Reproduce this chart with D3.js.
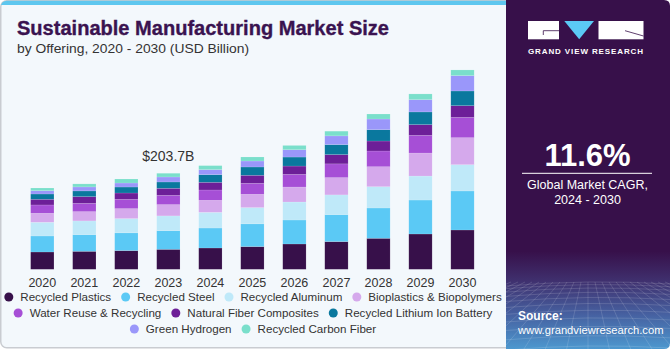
<!DOCTYPE html>
<html>
<head>
<meta charset="utf-8">
<script src="https://cdn.jsdelivr.net/npm/d3@7"></script>
<style>
body { margin: 0; background: #fff; }
svg { display: block; font-family: "Liberation Sans", Arial, sans-serif; }
</style>
</head>
<body>
<svg width="670" height="350"></svg>
<script>
// chart data (USD billion)
const years = [2020, 2021, 2022, 2023, 2024, 2025, 2026, 2027, 2028, 2029, 2030];
const segments = ['Recycled Plastics', 'Recycled Steel', 'Recycled Aluminum', 'Bioplastics & Biopolymers',
  'Water Reuse & Recycling', 'Natural Fiber Composites', 'Recycled Lithium Ion Battery',
  'Green Hydrogen', 'Recycled Carbon Fiber'];
const colors = ['#37104a', '#5bc9f5', '#bfe9f9', '#d5a9ec', '#a64fd6', '#6d1f98', '#0a789e', '#9a97fa', '#7adfcb'];

const recycledPlastics = [36.7, 38.2, 39.7, 42.4, 45.2, 48.2, 53.7, 58.8, 65.8, 74.9, 83.4];
const recycledSteel = [34.0, 35.4, 37.6, 39.7, 42.4, 48.2, 50.9, 57.3, 64.3, 72.1, 82.8];
const recycledAluminum = [29.1, 29.1, 30.3, 31.2, 33.3, 34.6, 38.2, 41.8, 45.2, 50.9, 55.8];
const bioplastics = [19.1, 19.7, 21.2, 24.0, 25.5, 28.2, 31.8, 36.7, 42.4, 48.8, 57.3];
const waterReuse = [17.6, 17.6, 19.7, 19.7, 21.9, 23.3, 26.9, 29.1, 33.3, 37.6, 43.1];
const naturalFiber = [12.1, 14.2, 13.4, 14.9, 16.3, 17.0, 17.6, 19.7, 21.2, 22.7, 24.8];
const lithiumBattery = [11.2, 12.1, 12.7, 13.4, 16.3, 17.6, 19.1, 21.2, 24.0, 26.9, 31.2];
const greenHydrogen = [7.0, 8.5, 8.5, 10.6, 10.6, 12.7, 15.5, 18.5, 22.7, 26.1, 32.5];
const carbonFiber = [5.7, 6.4, 8.5, 7.9, 8.5, 8.5, 9.1, 10.0, 10.6, 12.1, 12.1];

const seriesValues = [recycledPlastics, recycledSteel, recycledAluminum, bioplastics, waterReuse,
  naturalFiber, lithiumBattery, greenHydrogen, carbonFiber];

const annotatedYear = 2023;
const annotationText = '$203.7B';
const cagrText = '11.6%';

var svg = d3.select('svg');
var defs = svg.append('defs');

// ---- light panel ----
defs.append('clipPath').attr('id', 'panelClip')
  .append('rect').attr('x', 0.75).attr('y', 0.75).attr('width', 540).attr('height', 347).attr('rx', 6);

svg.append('rect')
  .attr('x', 0.75).attr('y', 0.75).attr('width', 540).attr('height', 347).attr('rx', 6)
  .attr('fill', '#f3f8fc').attr('stroke', '#c9ccd1').attr('stroke-width', 1.5);
svg.append('rect')
  .attr('clip-path', 'url(#panelClip)')
  .attr('x', 0).attr('y', 0).attr('width', 540).attr('height', 5)
  .attr('fill', '#5ec7ef');

// titles
svg.append('text')
  .attr('x', 17).attr('y', 35)
  .attr('font-size', 20).attr('font-weight', 'bold').attr('fill', '#3a1350')
  .attr('stroke', '#3a1350').attr('stroke-width', 0.35)
  .attr('textLength', 372).attr('lengthAdjust', 'spacingAndGlyphs')
  .text('Sustainable Manufacturing Market Size');
svg.append('text')
  .attr('x', 17).attr('y', 53)
  .attr('font-size', 13).attr('fill', '#333')
  .attr('textLength', 232).attr('lengthAdjust', 'spacingAndGlyphs')
  .text('by Offering, 2020 - 2030 (USD Billion)');

// ---- bars ----
var rows = years.map((y, i) => {
  var r = { year: y };
  segments.forEach((s, j) => { r[s] = seriesValues[j][i]; });
  return r;
});
var stacked = d3.stack().keys(segments)(rows);

var x = d3.scaleBand().domain(years).range([21.3, 483.5]).paddingInner(0.445).paddingOuter(0.2225);
var y = d3.scaleLinear().domain([0, 450]).range([269.3, 269.3 - 450 * 96 / 203.7]);

svg.append('g')
  .selectAll('g')
  .data(stacked)
  .enter()
  .append('g')
  .attr('fill', (d, i) => colors[i])
  .selectAll('rect')
  .data(d => d)
  .enter()
  .append('rect')
  .attr('x', d => x(d.data.year))
  .attr('width', x.bandwidth())
  .attr('y', d => y(d[1]))
  .attr('height', d => y(d[0]) - y(d[1]))
  .attr('stroke', 'rgba(255,255,255,0.25)')
  .attr('stroke-width', 0.5);

var xAxis = svg.append('g')
  .attr('transform', 'translate(0,' + y(0) + ')')
  .call(d3.axisBottom(x).tickSize(0).tickPadding(9));
xAxis.select('.domain').remove();
xAxis.selectAll('text')
  .attr('font-family', '"Liberation Sans", Arial, sans-serif')
  .attr('font-size', 12.5).attr('fill', '#333');

// annotation
var annIndex = years.indexOf(annotatedYear);
var annTotal = d3.sum(seriesValues, s => s[annIndex]);
svg.append('text')
  .attr('x', x(annotatedYear) + x.bandwidth() / 2)
  .attr('y', y(annTotal) - 12)
  .attr('text-anchor', 'middle')
  .attr('font-size', 14).attr('fill', '#333')
  .text(annotationText);

// ---- legend ----
var legendRows = [[0, 1, 2, 3], [4, 5, 6], [7, 8]];
var legendY = [297, 313, 329];
var legendCenter = 253;
var legend = svg.append('g');
legendRows.forEach((row, ri) => {
  var g = legend.append('g');
  var cx = 0;
  row.forEach(k => {
    g.append('circle').attr('cx', cx + 4.5).attr('cy', legendY[ri]).attr('r', 4.5).attr('fill', colors[k]);
    var t = g.append('text')
      .attr('x', cx + 16).attr('y', legendY[ri] + 4.3)
      .attr('font-size', 11.6).attr('fill', '#333')
      .text(segments[k]);
    cx += 16 + t.node().getComputedTextLength() + 10;
  });
  var w = cx - 10;
  g.attr('transform', 'translate(' + (legendCenter - w / 2) + ',0)');
});

// ---- right panel ----
var grad = defs.append('linearGradient').attr('id', 'sideGrad')
  .attr('x1', 0).attr('y1', 0).attr('x2', 0).attr('y2', 1);
grad.append('stop').attr('offset', '0').attr('stop-color', '#37104a');
grad.append('stop').attr('offset', '0.72').attr('stop-color', '#37104a');
grad.append('stop').attr('offset', '0.8').attr('stop-color', '#3f2e6c');
grad.append('stop').attr('offset', '0.9').attr('stop-color', '#4660a0');
grad.append('stop').attr('offset', '1').attr('stop-color', '#4d98cf');

var px0 = 506, px1 = 670, py0 = 0, py1 = 349, rr = 6;
svg.append('path')
  .attr('d', `M${px0},${py0} H${px1 - rr} Q${px1},${py0} ${px1},${py0 + rr} V${py1 - rr} Q${px1},${py1} ${px1 - rr},${py1} H${px0} Z`)
  .attr('fill', 'url(#sideGrad)');

// faint grid texture at the bottom of the side panel
defs.append('clipPath').attr('id', 'sideClip')
  .append('rect').attr('x', px0).attr('y', 280).attr('width', px1 - px0).attr('height', py1 - 280);
var grid = svg.append('g').attr('clip-path', 'url(#sideClip)')
  .attr('stroke', '#ffffff').attr('stroke-opacity', 0.2).attr('stroke-width', 0.7).attr('fill', 'none');
d3.range(0, 14).forEach(i => {
  var yy = 282 + i * i * 0.42 + i * 2.2;
  grid.append('path').attr('d', `M${px0},${yy + 4} Q588,${yy - 3} ${px1},${yy + 2}`);
});
d3.range(-12, 13).forEach(i => {
  grid.append('line')
    .attr('x1', 588 + i * 7).attr('y1', 282)
    .attr('x2', 588 + i * 22).attr('y2', 352);
});

// logo
var logo = svg.append('g');
logo.append('rect').attr('x', 528).attr('y', 21).attr('width', 31).attr('height', 18.3).attr('fill', '#fff');
logo.append('path').attr('d', 'M559,30.7 H543.3 V35').attr('stroke', '#37104a').attr('stroke-width', 0.8).attr('fill', 'none');
logo.append('path').attr('d', 'M564.3,21 H594 L579.2,39.3 Z').attr('fill', '#5bc9f5');
logo.append('rect').attr('x', 598.5).attr('y', 21).attr('width', 45).attr('height', 18.3).attr('fill', '#fff');
logo.append('path').attr('d', 'M625,30.7 L643.5,36').attr('stroke', '#37104a').attr('stroke-width', 0.8);
logo.append('text')
  .attr('x', 528).attr('y', 53.5)
  .attr('font-size', 8).attr('font-weight', 'bold').attr('fill', '#fff')
  .attr('textLength', 115).attr('lengthAdjust', 'spacing')
  .text('GRAND VIEW RESEARCH');

// CAGR
svg.append('text')
  .attr('x', 587.5).attr('y', 165.5)
  .attr('text-anchor', 'middle')
  .attr('font-size', 31).attr('font-weight', 'bold').attr('fill', '#fff')
  .text(cagrText);
svg.append('line')
  .attr('x1', 522).attr('x2', 652).attr('y1', 173.3).attr('y2', 173.3)
  .attr('stroke', '#fff').attr('stroke-width', 1);
svg.append('text')
  .attr('x', 587.5).attr('y', 189)
  .attr('text-anchor', 'middle')
  .attr('font-size', 12.5).attr('fill', '#fff')
  .text('Global Market CAGR,');
svg.append('text')
  .attr('x', 587.5).attr('y', 204)
  .attr('text-anchor', 'middle')
  .attr('font-size', 12.5).attr('fill', '#fff')
  .text('2024 - 2030');

// source
svg.append('text')
  .attr('x', 518).attr('y', 320)
  .attr('font-size', 12).attr('font-weight', 'bold').attr('fill', '#fff')
  .text('Source:');
svg.append('text')
  .attr('x', 518).attr('y', 333.5)
  .attr('font-size', 11.2).attr('fill', '#fff')
  .text('www.grandviewresearch.com');
</script>
</body>
</html>
